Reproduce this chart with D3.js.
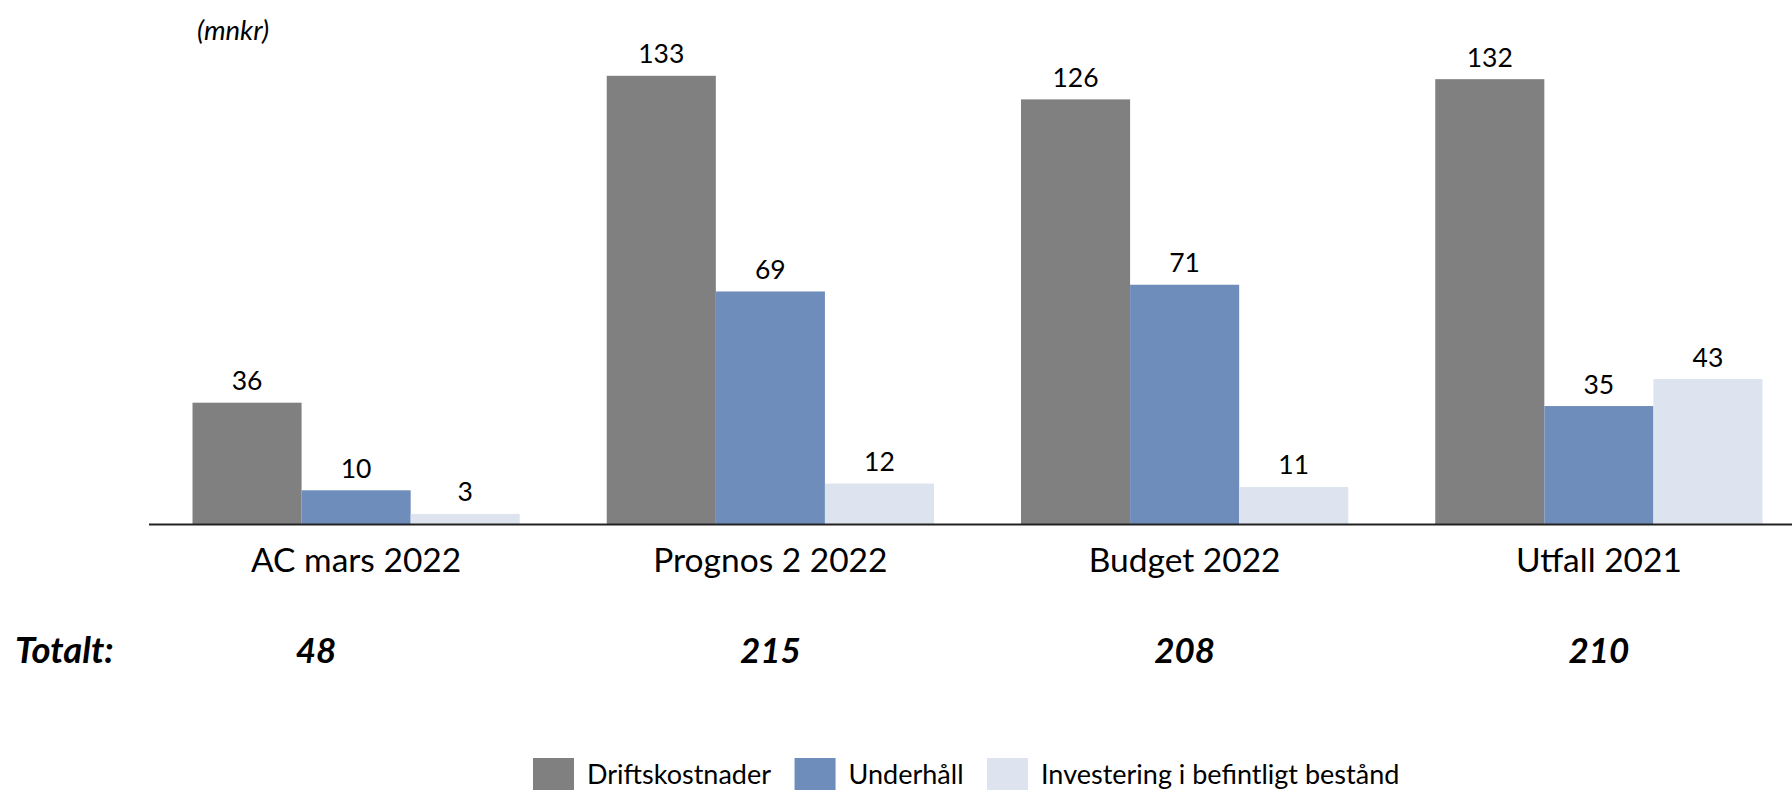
<!DOCTYPE html>
<html>
<head>
<meta charset="utf-8">
<script src="https://cdn.jsdelivr.net/npm/d3@7"></script>
<style>
  html, body { margin: 0; padding: 0; background: #fff; }
  svg { display: block; font-family: Lato, "Open Sans", sans-serif; }
</style>
</head>
<body>
<svg id="chart" width="1792" height="790"></svg>
<script>
const categories = ["AC mars 2022", "Prognos 2 2022", "Budget 2022", "Utfall 2021"];
const seriesNames = ["Driftskostnader", "Underhåll", "Investering i befintligt bestånd"];
const driftskostnader = [36, 133, 126, 132];
const underhall = [10, 69, 71, 35];
const investering = [3, 12, 11, 43];
const totals = [48, 215, 208, 210];
const totalLabel = "Totalt:";
const unitLabel = "(mnkr)";
const colors = ["#808080", "#6E8DBA", "#DDE4EF"];

const series = [driftskostnader, underhall, investering];

const svg = d3.select("#chart");

const x0 = d3.scaleBand().domain(categories).range([149, 1806]).paddingInner(0.21).paddingOuter(0.105);
const x1 = d3.scaleBand().domain(seriesNames).range([0, x0.bandwidth()]).padding(0);
const y = d3.scaleLinear().domain([0, 140]).range([524, 52.2]);

// bars
const groups = svg.append("g").selectAll("g").data(categories).join("g")
  .attr("transform", d => `translate(${x0(d)},0)`);

groups.selectAll("rect")
  .data((c, i) => seriesNames.map((s, j) => ({ s, v: series[j][i], j })))
  .join("rect")
  .attr("x", d => x1(d.s))
  .attr("y", d => y(d.v))
  .attr("width", x1.bandwidth())
  .attr("height", d => y(0) - y(d.v))
  .attr("fill", d => colors[d.j]);

groups.selectAll("text.val")
  .data((c, i) => seriesNames.map((s, j) => ({ s, v: series[j][i], j })))
  .join("text")
  .attr("class", "val")
  .attr("x", d => x1(d.s) + x1.bandwidth() / 2)
  .attr("y", d => y(d.v) - 12.5)
  .attr("text-anchor", "middle")
  .attr("font-size", 26.5)
  .attr("fill", "#000")
  .text(d => d.v);

// x axis
const xAxis = d3.axisBottom(x0).tickSize(0).tickPadding(0);
const axG = svg.append("g").attr("transform", `translate(0,${y(0)})`).call(xAxis);
axG.select(".domain").attr("d", `M149,0.5H1806`).attr("stroke", "#222").attr("stroke-width", 2);
axG.selectAll(".tick text")
  .attr("y", 47.7).attr("dy", 0)
  .attr("font-size", 33.5).attr("font-family", "Lato, sans-serif").attr("fill", "#000");

// unit label
svg.append("text").attr("x", 197).attr("y", 40)
  .attr("font-size", 27.5).attr("font-style", "italic").attr("fill", "#000").text(unitLabel);

// totals
svg.append("text").attr("x", 15).attr("y", 662.7)
  .attr("font-size", 36.5).attr("font-style", "italic").attr("font-weight", "bold").attr("fill", "#000")
  .text(totalLabel);
svg.append("g").selectAll("text").data(totals).join("text")
  .attr("x", (d, i) => x0(categories[i]) + x0.bandwidth() / 2 + (i === 0 ? -40 : 0))
  .attr("y", 662.7)
  .attr("text-anchor", "middle")
  .attr("font-size", 35).attr("font-style", "italic").attr("font-weight", "bold").attr("fill", "#000")
  .text(d => d);

// legend
const leg = svg.append("g");
let lx = 533;
seriesNames.forEach((name, j) => {
  leg.append("rect").attr("x", lx).attr("y", 758).attr("width", 41).attr("height", 32).attr("fill", colors[j]);
  const t = leg.append("text").attr("x", lx + 54).attr("y", 783.5)
    .attr("font-size", 27).attr("fill", "#000").text(name);
  lx += 54 + t.node().getComputedTextLength() + 23.5;
});
</script>
</body>
</html>
